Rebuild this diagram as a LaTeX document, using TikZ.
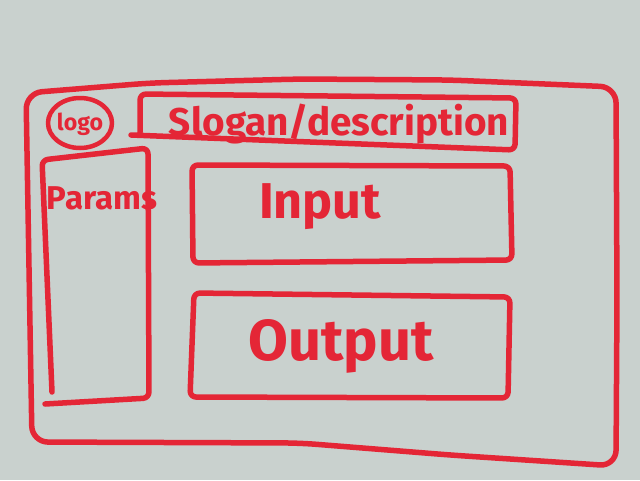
\documentclass[tikz,border=0pt]{standalone}
\usepackage{fontspec}
\setmainfont{Fira Sans}
\usepackage{graphicx}
\definecolor{board}{RGB}{201,209,206}
\definecolor{marker}{RGB}{228,38,54}
\begin{document}
\begin{tikzpicture}[x=1pt,y=-1pt,
  ink/.style={draw=marker,line width=5.5pt,line cap=round,line join=round,rounded corners=6pt},
  scrawl/.style={text=marker,font=\bfseries,inner sep=0pt}]
% whiteboard
\fill[board] (0,0) rectangle (640,480);
\useasboundingbox (0,0) rectangle (640,480);

% outer page frame
\draw[ink,rounded corners=16pt] (26,93) -- (150,83) -- (300,79) -- (450,80)
  -- (616,87) -- (617,300) -- (616,466) -- (450,455) -- (300,443)
  -- (32,442) -- cycle;

% logo
\draw[ink,line width=4.5pt] (80,123) ellipse [x radius=32, y radius=25];
\node[scrawl] (logo) at (80,124) {\resizebox{46pt}{!}{logo}};

% slogan / description banner
\draw[ink] (140,132) -- (140,94) -- (516,98) -- (515,150) -- (131,135);
\node[scrawl] (slogan) at (339,124) {\resizebox{340pt}{!}{Slogan/description}};

% parameter column
\draw[ink] (52,392) -- (42,160) -- (148,148) -- (149,398) -- (45,404);
\node[scrawl] (params) at (102,198) {\resizebox{110pt}{!}{Params}};

% input panel
\draw[ink] (192,165) -- (510,166) -- (512,260) -- (193,263) -- cycle;
\node[scrawl] (input) at (320,207) {\resizebox{122pt}{!}{Input}};

% output panel
\draw[ink] (194,293) -- (510,297) -- (508,398) -- (190,397) -- cycle;
\node[scrawl] (output) at (341,346) {\resizebox{185pt}{!}{Output}};
\end{tikzpicture}
\end{document}
